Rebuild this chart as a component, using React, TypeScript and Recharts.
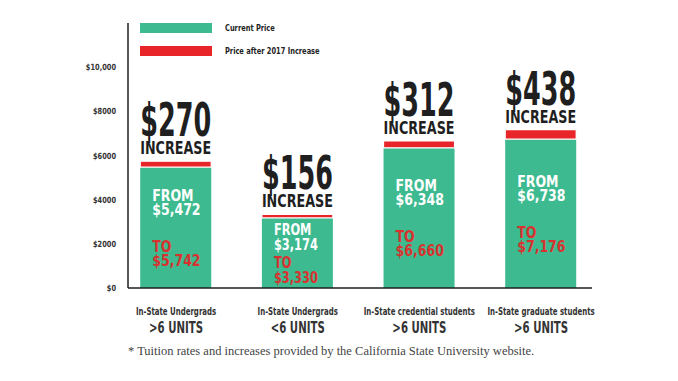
import { BarChart, Bar, XAxis, YAxis, LabelList } from "recharts";

const categories = [
  "In-State Undergrads",
  "In-State Undergrads",
  "In-State credential students",
  "In-State graduate students",
];
const unitLabels = [">6 UNITS", "<6 UNITS", ">6 UNITS", ">6 UNITS"];
const currentPrice = [5472, 3174, 6348, 6738];
const newPrice = [5742, 3330, 6660, 7176];
const yTicks = [0, 2000, 4000, 6000, 8000, 10000];

const GREEN = "#3dba8f";
const RED = "#e8262a";
const TEXT_RED = "#d8322f";
const DARK = "#1f1f1f";
const FONT = "'DejaVu Sans', sans-serif";

const data = categories.map((name, i) => ({
  idx: i,
  name,
  units: unitLabels[i],
  current: currentPrice[i],
  increase: newPrice[i] - currentPrice[i],
  next: newPrice[i],
}));

const fmt = (v: number) => "$" + v.toLocaleString("en-US");

// DejaVu has no condensed cut here, so squeeze it horizontally
function CondText({ x, y, sx = 0.72, anchor = "start", size, fill, children }: any) {
  return (
    <g transform={`translate(${x},${y}) scale(${sx},1)`}>
      <text x={0} y={0} textAnchor={anchor} fontFamily={FONT} fontWeight="bold" fontSize={size} fill={fill}>
        {children}
      </text>
    </g>
  );
}

function YTick({ x, y, payload }: any) {
  const v = payload.value;
  const label = v >= 10000 ? fmt(v) : "$" + v;
  return <CondText x={x} y={y + 3} anchor="end" sx={0.78} size={8.5} fill="#333">{label}</CondText>;
}

function XTick({ x, y, payload }: any) {
  const d = data[payload.value];
  if (!d) return null;
  return (
    <g>
      <CondText x={x} y={y + 19} anchor="middle" sx={0.7} size={10} fill="#333">{d.name}</CondText>
      <CondText x={x} y={y + 37} anchor="middle" sx={0.68} size={15} fill="#333">{d.units}</CondText>
    </g>
  );
}

function IncreaseLabel(props: any) {
  const { x, y, width, index } = props;
  const d = data[index];
  const cx = x + width / 2;
  return (
    <g>
      <text x={cx} y={y - 25} textAnchor="middle" fontFamily={FONT} fontWeight="bold" fontSize={46}
        fill={DARK} textLength={width} lengthAdjust="spacingAndGlyphs">
        {fmt(d.increase)}
      </text>
      <text x={cx} y={y - 7} textAnchor="middle" fontFamily={FONT} fontWeight="bold" fontSize={17}
        fill={DARK} textLength={width} lengthAdjust="spacingAndGlyphs">
        INCREASE
      </text>
    </g>
  );
}

function InsideLabel(props: any) {
  const { x, y, height, index } = props;
  const d = data[index];
  const small = height < 100;
  const fs = small ? 15 : 16.5;
  const lh = small ? 15 : 14;
  const gap = small ? 18 : Math.min(37, height - 55);
  const total = lh * 2 + gap + 12;
  const top = y + height / 2 - total / 2 + 12;
  const tx = x + 12;
  return (
    <g>
      <CondText x={tx} y={top} sx={0.76} size={fs} fill="#fff">FROM</CondText>
      <CondText x={tx} y={top + lh} sx={0.76} size={fs} fill="#fff">{fmt(d.current)}</CondText>
      <CondText x={tx} y={top + lh + gap} sx={0.76} size={fs} fill={TEXT_RED}>TO</CondText>
      <CondText x={tx} y={top + 2 * lh + gap} sx={0.76} size={fs} fill={TEXT_RED}>{fmt(d.next)}</CondText>
    </g>
  );
}

const legendText = {
  position: "absolute",
  left: 225,
  fontFamily: FONT,
  fontWeight: "bold",
  fontSize: 9.5,
  color: "#222",
  lineHeight: "12px",
  whiteSpace: "nowrap",
  transform: "scaleX(0.7)",
  transformOrigin: "left center",
} as any;

export default function App() {
  return (
    <div style={{ position: "absolute", left: 0, top: 0, width: 678, height: 381, background: "#fff" }}>
      <BarChart width={678} height={381} data={data} margin={{ top: 23, right: 86, left: 68, bottom: 53 }}>
        <XAxis
          type="number"
          dataKey="idx"
          domain={[-0.395, 3.419]}
          ticks={[0, 1, 2, 3]}
          allowDataOverflow
          tickLine={false}
          axisLine={{ stroke: DARK, strokeWidth: 1.5 }}
          tick={<XTick />}
          height={40}
        />
        <YAxis
          domain={[0, 12000]}
          ticks={yTicks}
          width={60}
          tickLine={false}
          tickSize={0}
          tickMargin={12}
          axisLine={{ stroke: DARK, strokeWidth: 1.5 }}
          tick={<YTick />}
        />
        <Bar dataKey="current" stackId="a" fill={GREEN} barSize={71} isAnimationActive={false}>
          <LabelList dataKey="current" content={<InsideLabel />} />
        </Bar>
        <Bar dataKey="increase" stackId="a" fill={RED} stroke="#fff" strokeWidth={1.2} barSize={71} isAnimationActive={false}>
          <LabelList dataKey="increase" content={<IncreaseLabel />} />
        </Bar>
      </BarChart>
      <div style={{ position: "absolute", left: 140, top: 23, width: 72, height: 10, background: GREEN }} />
      <div style={{ position: "absolute", left: 140, top: 46, width: 72, height: 10, background: RED }} />
      <div style={{ ...legendText, top: 22 }}>Current Price</div>
      <div style={{ ...legendText, top: 45 }}>Price after 2017 Increase</div>
      <div style={{ position: "absolute", left: 128, top: 344, fontFamily: "'Liberation Serif', serif", fontSize: 12.5, color: "#444", whiteSpace: "nowrap" }}>
        * Tuition rates and increases provided by the California State University website.
      </div>
    </div>
  );
}
